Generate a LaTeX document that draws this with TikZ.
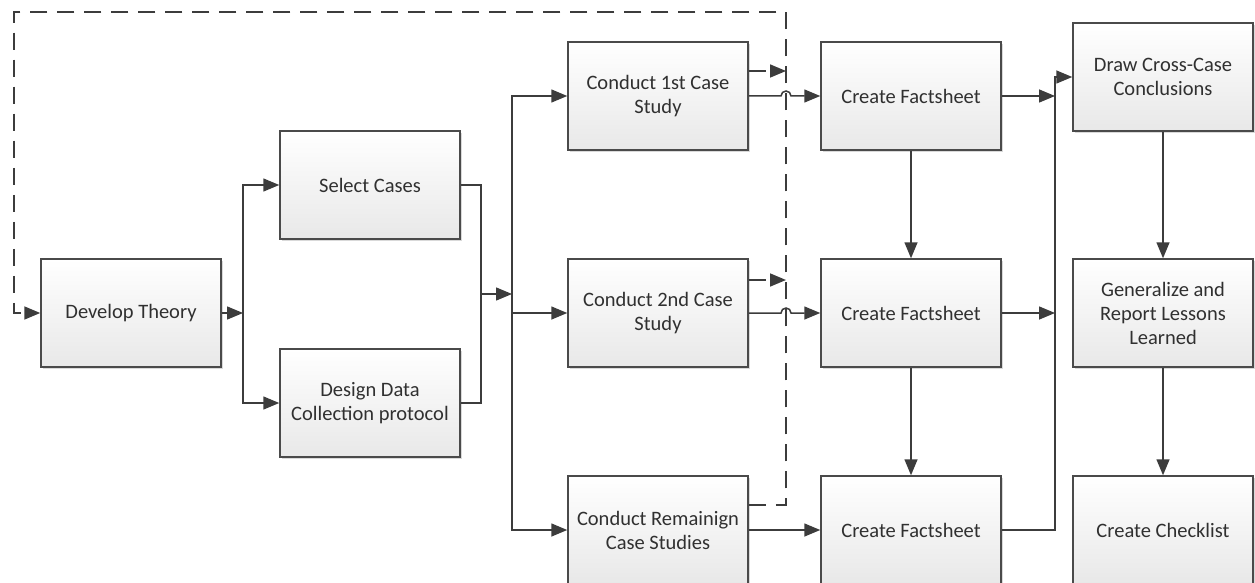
\documentclass[tikz,border=0pt]{standalone}
\usepackage{fontspec}
\setmainfont{Carlito}
\usetikzlibrary{arrows.meta,shadows}
\definecolor{linegray}{HTML}{3C3C3C}
\definecolor{boxedge}{HTML}{4A4A4A}
\definecolor{boxfoot}{HTML}{E8E8E8}
\definecolor{txt}{HTML}{303030}

\begin{document}
\begin{tikzpicture}[x=1pt,y=-1pt,
  stage/.style={draw=boxedge, line width=1.5pt, top color=white, bottom color=boxfoot,
    minimum width=180pt, minimum height=108pt, inner sep=0pt, align=center,
    font=\fontsize{20.5}{24}\selectfont, text=txt,
    drop shadow={shadow xshift=2pt, shadow yshift=-2pt, opacity=0.15, fill=black}},
  link/.style={draw=linegray, line width=1.5pt},
  flow/.style={link, -{Triangle[length=16pt,width=13pt]}},
  back/.style={draw=linegray, line width=1.7pt, dash pattern=on 17pt off 10pt,
    -{Triangle[length=16pt,width=13pt]}}]

\useasboundingbox (0,0) rectangle (1255,583);
\fill[white] (0,0) rectangle (1255,583);
\clip (0,0) rectangle (1255,583);

% process stages
\node[stage] (dev) at (131,313) {Develop Theory};
\node[stage] (sel) at (370,185) {Select Cases};
\node[stage] (des) at (370,403) {Design Data\\Collection protocol};
\node[stage] (c1)  at (658,96)  {Conduct 1st Case\\Study};
\node[stage] (c2)  at (658,313) {Conduct 2nd Case\\Study};
\node[stage] (c3)  at (658,530) {Conduct Remainign\\Case Studies};
\node[stage] (f1)  at (911,96)  {Create Factsheet};
\node[stage] (f2)  at (911,313) {Create Factsheet};
\node[stage] (f3)  at (911,530) {Create Factsheet};
\node[stage] (dc)  at (1163,77) {Draw Cross-Case\\Conclusions};
\node[stage] (gen) at (1163,313) {Generalize and\\Report Lessons\\Learned};
\node[stage] (chk) at (1163,530) {Create Checklist};

% junction points of the connector lines
\coordinate (j1) at (243,313);
\coordinate (m1) at (481,294);
\coordinate (j2) at (512,294);
\coordinate (dtop) at (786,12);
\coordinate (dleft) at (14,12);
\coordinate (bus) at (1055,77);
\coordinate (d1) at ([yshift=25pt]c1.east);
\coordinate (d2) at ([yshift=33pt]c2.east);
\coordinate (d3) at ([yshift=25pt]c3.east);

% feedback (dashed) paths
\draw[back] (d1) -- (d1 -| dtop);
\draw[back] (d2) -- (d2 -| dtop);
\draw[back] (d3) -| (dtop) -- (dleft) |- (dev);

% theory to case selection and protocol
\draw[flow] (dev) -- (j1);
\draw[flow] (j1) |- (sel);
\draw[flow] (j1) |- (des);
\draw[link] (sel) -| (m1) |- (des);
\draw[flow] (m1) -- (j2);
\draw[flow] (j2) |- (c1);
\draw[flow] (j2) |- (c2);
\draw[flow] (j2) |- (c3);

% case studies to factsheets, hopping over the dashed line
\path (dtop |- c1.east) coordinate (h1);
\path (dtop |- c2.east) coordinate (h2);
\draw[flow] (c1) -- ([xshift=-5pt]h1) arc[start angle=180, end angle=0, radius=5pt] -- (f1);
\draw[flow] (c2) -- ([xshift=-5pt]h2) arc[start angle=180, end angle=0, radius=5pt] -- (f2);
\draw[flow] (c3) -- (f3);

\draw[flow] (f1) -- (f2);
\draw[flow] (f2) -- (f3);

% factsheets to cross-case analysis
\draw[flow] (f1) -- (f1 -| bus);
\draw[flow] (f2) -- (f2 -| bus);
\draw[flow] (f3) -| (bus) -- (dc);

\draw[flow] (dc) -- (gen);
\draw[flow] (gen) -- (chk);
\end{tikzpicture}
\end{document}
